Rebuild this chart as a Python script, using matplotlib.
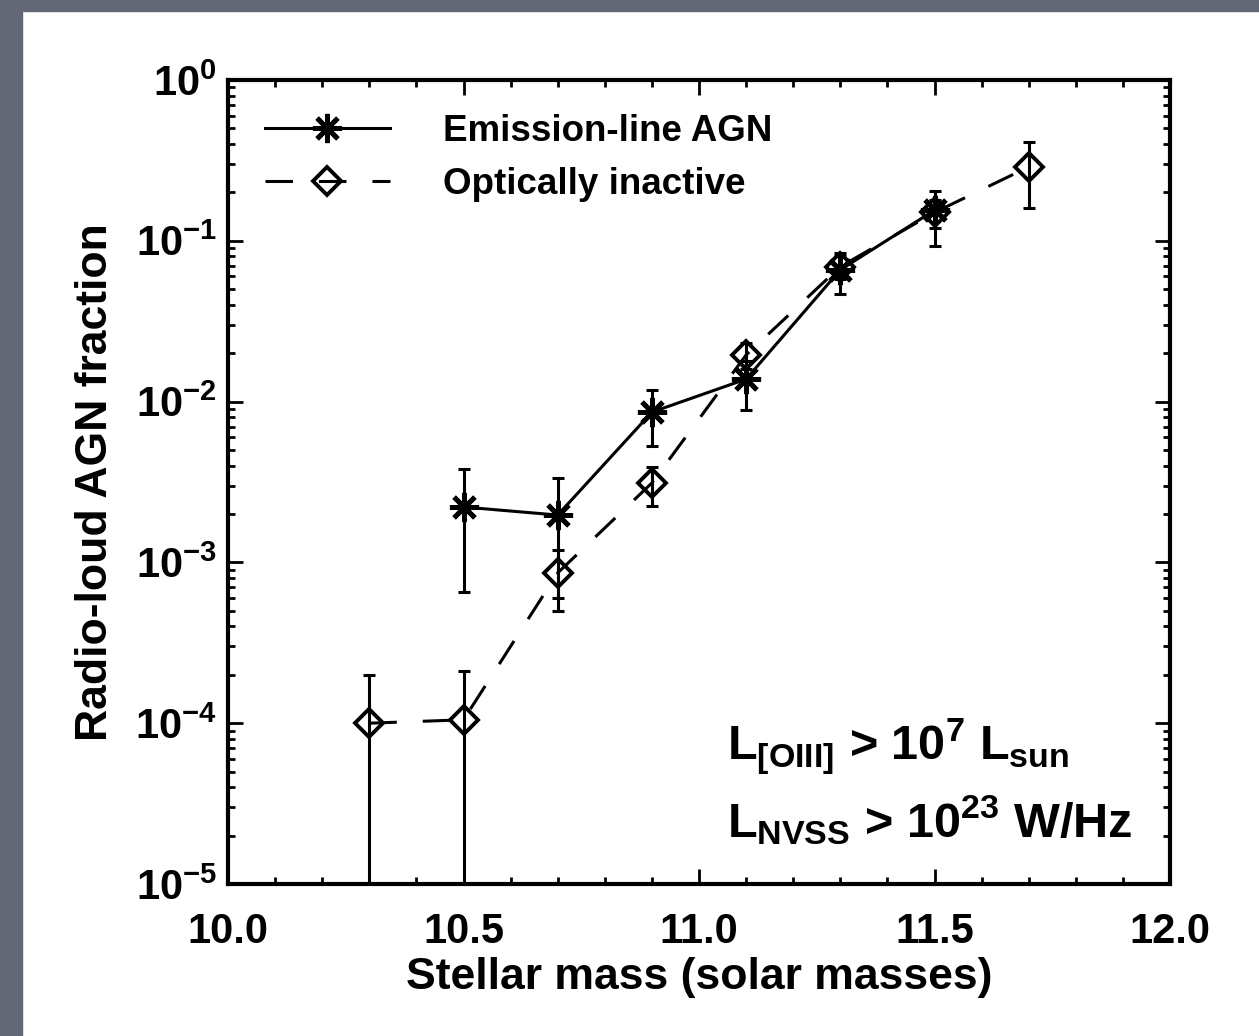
import numpy as np
import matplotlib
matplotlib.use("Agg")
import matplotlib.pyplot as plt
from matplotlib.patches import Rectangle
from matplotlib.ticker import FixedLocator, LogLocator, NullFormatter, FuncFormatter

plt.rcParams['font.family'] = ['Liberation Sans', 'DejaVu Sans']
plt.rcParams['font.weight'] = 'bold'
plt.rcParams['mathtext.fontset'] = 'custom'
plt.rcParams['mathtext.rm'] = 'Liberation Sans:bold'
plt.rcParams['mathtext.it'] = 'Liberation Sans:bold'
plt.rcParams['mathtext.bf'] = 'Liberation Sans:bold'

# Emission-line AGN: fraction and error range per stellar mass bin
mass_agn = [10.5, 10.7, 10.9, 11.1, 11.3, 11.5]
frac_agn = [2.21e-3, 1.97e-3, 8.6e-3, 1.38e-2, 6.6e-2, 1.55e-1]
agn_hi = [3.8e-3, 3.35e-3, 1.18e-2, 1.8e-2, 8.4e-2, 2.04e-1]
agn_lo = [6.5e-4, 6.0e-4, 5.3e-3, 8.9e-3, 4.7e-2, 9.3e-2]

# Optically inactive galaxies (lowest two bins have error bars reaching zero)
mass_ina = [10.3, 10.5, 10.7, 10.9, 11.1, 11.3, 11.5, 11.7]
frac_ina = [1.0e-4, 1.05e-4, 8.6e-4, 3.12e-3, 1.95e-2, 6.9e-2, 1.5e-1, 2.88e-1]
ina_hi = [2.0e-4, 2.1e-4, 1.2e-3, 3.9e-3, 2.3e-2, 8.0e-2, 1.8e-1, 4.11e-1]
ina_lo = [1e-7, 1e-7, 5.0e-4, 2.24e-3, 1.6e-2, 5.8e-2, 1.2e-1, 1.6e-1]

xticks = [10.0, 10.5, 11.0, 11.5, 12.0]
xlabels = ['10.0', '10.5', '11.0', '11.5', '12.0']


def yerr(frac, lo, hi):
    frac = np.array(frac)
    return [frac - np.array(lo), np.array(hi) - frac]


fig = plt.figure(figsize=(12.59, 10.36), dpi=100)
fig.patch.set_facecolor('white')
# slate border strips on the left and top edges
fig.patches.append(Rectangle((0, 0), 22 / 1259, 1, transform=fig.transFigure,
                             color='#636877', zorder=-10))
fig.patches.append(Rectangle((0, 1 - 11 / 1036), 1, 11 / 1036, transform=fig.transFigure,
                             color='#636877', zorder=-10))

ax = fig.add_axes([228 / 1259, 1 - 884 / 1036, 942 / 1259, 804 / 1036])
ax.set_yscale('log')
ax.set_xlim(10.0, 12.0)
ax.set_ylim(1e-5, 1.0)

lw = 2.2
ax.errorbar(mass_ina, frac_ina, yerr=yerr(frac_ina, ina_lo, ina_hi), fmt='none',
            ecolor='black', elinewidth=lw, capsize=4, capthick=lw, zorder=2)
ax.plot(mass_ina, frac_ina, color='black', lw=lw, ls=(0, (9, 8.5)),
        marker='D', ms=14, mfc='none', mec='black', mew=2.8,
        label='Optically inactive', zorder=3)

ax.errorbar(mass_agn, frac_agn, yerr=yerr(frac_agn, agn_lo, agn_hi), fmt='none',
            ecolor='black', elinewidth=lw, capsize=4, capthick=lw, zorder=4)
ax.plot(mass_agn, frac_agn, color='black', lw=lw, ls='-',
        marker=(8, 2, 0), ms=21, mec='black', mew=3.5,
        label='Emission-line AGN', zorder=5)

# axis ticks: inward on all four sides
ax.xaxis.set_major_locator(FixedLocator(xticks))
ax.set_xticklabels(xlabels)
ax.xaxis.set_minor_locator(FixedLocator(np.arange(10.0, 12.01, 0.1)))
ax.yaxis.set_major_locator(LogLocator(base=10, numticks=10))
ax.yaxis.set_minor_locator(LogLocator(base=10, subs=np.arange(2, 10), numticks=20))
ax.yaxis.set_minor_formatter(NullFormatter())
ax.yaxis.set_major_formatter(FuncFormatter(lambda v, p: r'$10^{%d}$' % round(np.log10(v))))

ax.tick_params(which='both', direction='in', top=True, right=True, width=2, color='black')
ax.tick_params(which='major', length=11)
ax.tick_params(which='minor', length=5)
ax.tick_params(axis='x', which='major', labelsize=30, pad=20)
ax.tick_params(axis='y', which='major', labelsize=30, pad=8)
for s in ax.spines.values():
    s.set_linewidth(3)

ax.set_xlabel('Stellar mass (solar masses)', fontsize=32, fontweight='bold', labelpad=4)
ax.set_ylabel('Radio-loud AGN fraction', fontsize=32, fontweight='bold', labelpad=14)

handles, labels = ax.get_legend_handles_labels()
ax.legend(handles[::-1], labels[::-1], loc='upper left', bbox_to_anchor=(0.039, 0.958),
          frameon=False, fontsize=26.5, handlelength=3.4, handletextpad=1.45,
          borderpad=0, borderaxespad=0, labelspacing=0.5, numpoints=1)

ax.text(0.53, 0.154, r'$L_{[OIII]}$ > $10^{7}$ $L_{sun}$', transform=ax.transAxes,
        fontsize=35, ha='left', va='baseline')
ax.text(0.53, 0.058, r'$L_{NVSS}$ > $10^{23}$ W/Hz', transform=ax.transAxes,
        fontsize=35, ha='left', va='baseline')

fig.savefig('out.png', dpi=100)
